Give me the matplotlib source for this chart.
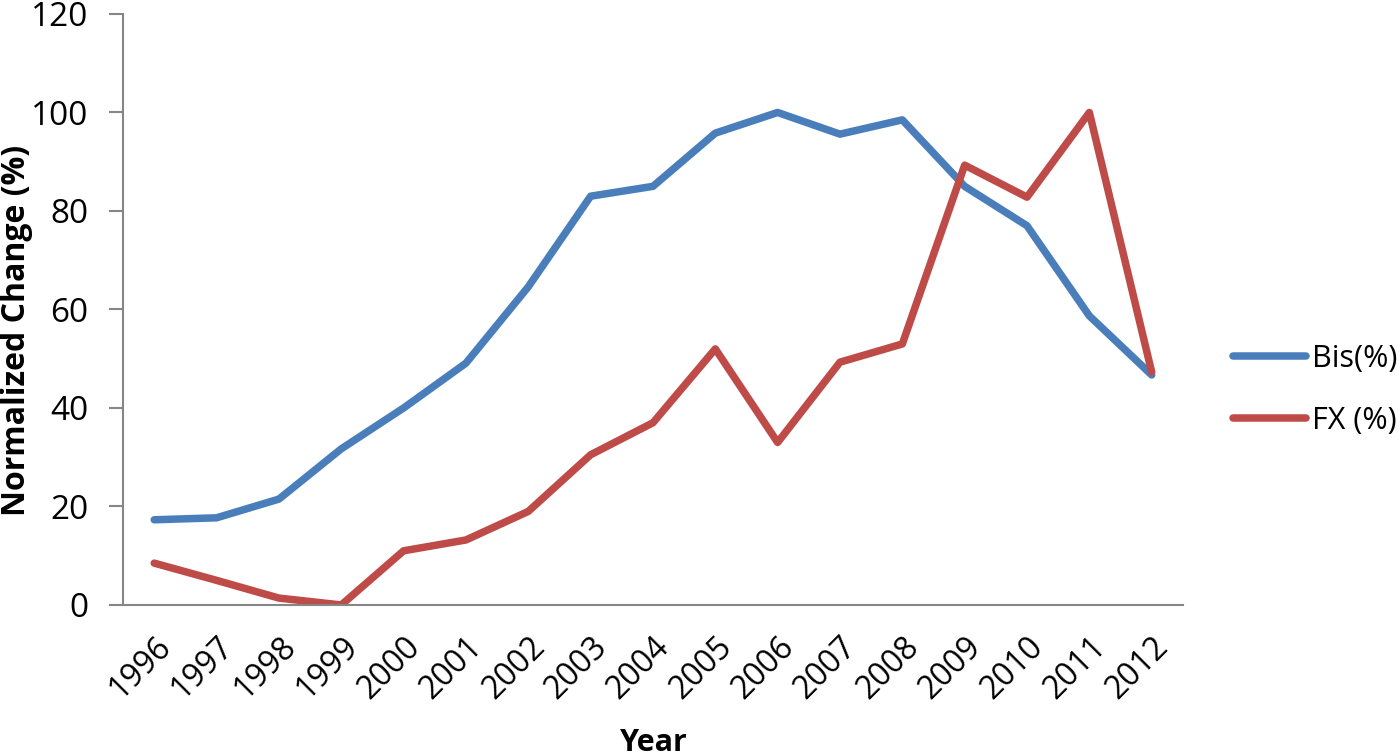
import matplotlib.pyplot as plt
import numpy as np

plt.rcParams['font.family'] = ['Open Sans', 'DejaVu Sans']

years = ['1996', '1997', '1998', '1999', '2000', '2001', '2002', '2003', '2004',
         '2005', '2006', '2007', '2008', '2009', '2010', '2011', '2012']
bis = [17.3, 17.7, 21.5, 31.7, 40.0, 49.1, 64.6, 83.0, 85.0,
       95.8, 100.0, 95.6, 98.5, 85.0, 77.0, 58.7, 46.7]
fx = [8.5, 5.0, 1.4, 0.0, 11.0, 13.2, 19.0, 30.5, 37.0,
      52.0, 33.0, 49.3, 53.0, 89.3, 82.8, 100.0, 47.3]

fig = plt.figure(figsize=(14, 7.55), dpi=100)
ax = fig.add_axes([0.0879, 0.1987, 0.757, 0.7828])

x = np.arange(len(years))
ax.plot(x, bis, color='#4A7EBB', lw=5.4, solid_capstyle='round', solid_joinstyle='round', label='Bis(%)')
ax.plot(x, fx, color='#BE4B48', lw=5.4, solid_capstyle='round', solid_joinstyle='round', label='FX (%)')

ax.set_xlim(-0.5, len(years) - 0.5)
ax.set_ylim(0, 120)
ax.set_yticks(range(0, 121, 20))
ax.set_xticks(x)
ax.set_xticklabels(years, rotation=45, ha='right', rotation_mode='anchor')
ax.tick_params(axis='x', length=0, labelsize=23, pad=18)
ax.tick_params(axis='y', length=10, width=1.5, color='#868686', labelsize=24, pad=15)

for s in ['top', 'right']:
    ax.spines[s].set_visible(False)
for s in ['left', 'bottom']:
    ax.spines[s].set_color('#868686')
    ax.spines[s].set_linewidth(1.5)

ax.set_ylabel('Normalized Change (%)', fontsize=23, fontweight='bold')
ax.yaxis.set_label_coords(-0.0849, 0.4653)
ax.set_xlabel('Year', fontsize=22, fontweight='bold')
ax.xaxis.set_label_coords(0.501, -0.208)

ax.legend(loc='center left', bbox_to_anchor=(0.8807, 0.4834), bbox_transform=fig.transFigure,
          frameon=False, fontsize=22, borderpad=0, borderaxespad=0,
          handlelength=2.4, labelspacing=1.05, handletextpad=0.2)

fig.savefig('out.png', dpi=100)
